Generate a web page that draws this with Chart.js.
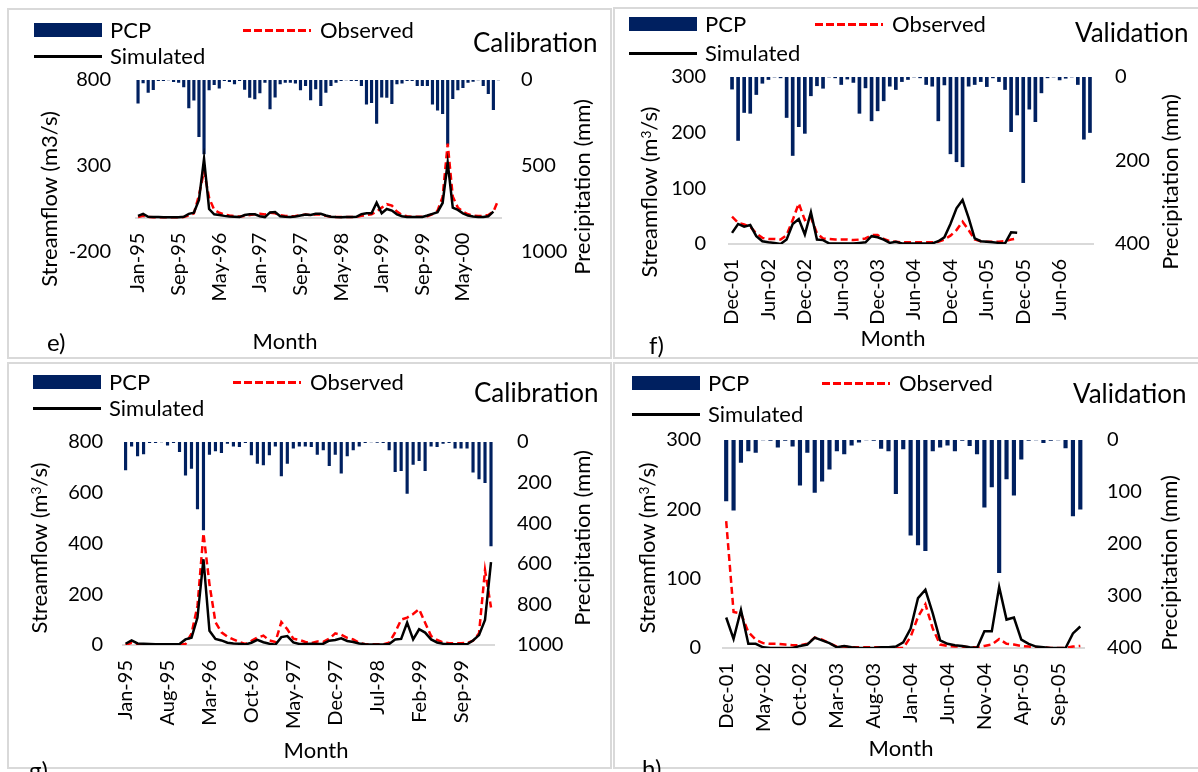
<!DOCTYPE html>
<html>
<head>
<meta charset="utf-8">
<title>Streamflow calibration and validation</title>
<script src="https://cdn.jsdelivr.net/npm/chart.js@4.4.1/dist/chart.umd.min.js"></script>
<style>
  html, body { margin: 0; padding: 0; }
  body { width: 1198px; height: 772px; position: relative; overflow: hidden; background: #fff; font-family: Lato, sans-serif; color: #000; }
  .frame { position: absolute; box-sizing: border-box; border: 2px solid #d9d9d9; }
  canvas { position: absolute; }
  .txt { position: absolute; white-space: nowrap; line-height: 1; }
  .sw { position: absolute; }
  sup { font-size: 0.62em; vertical-align: baseline; position: relative; top: -0.45em; }
</style>
</head>
<body>
<div class="frame" style="left:7px;top:8px;width:605px;height:351px"></div>
<div class="frame" style="left:613px;top:7px;width:600px;height:352px"></div>
<div class="frame" style="left:7px;top:362px;width:605px;height:407px"></div>
<div class="frame" style="left:613px;top:362px;width:600px;height:407px"></div>

<canvas id="chart-e" width="610" height="360" style="left:0;top:0"></canvas>
<canvas id="chart-f" width="586" height="360" style="left:612px;top:0"></canvas>
<canvas id="chart-g" width="612" height="410" style="left:0;top:362px"></canvas>
<canvas id="chart-h" width="586" height="410" style="left:612px;top:362px"></canvas>

<script>
// month labels for the category axes
const MONTHS = ['Jan','Feb','Mar','Apr','May','Jun','Jul','Aug','Sep','Oct','Nov','Dec'];
function monthLabels(month, year, count) {
  const out = [];
  for (let k = 0; k < count; k++) {
    const m = (month + k) % 12;
    const y = year + Math.floor((month + k) / 12);
    out.push(MONTHS[m] + '-' + String(y % 100).padStart(2, '0'));
  }
  return out;
}

// e) calibration, Jan-95 .. Dec-00
const labelsE = monthLabels(0, 1995, 72);
const ticksE = ['Jan-95','Sep-95','May-96','Jan-97','Sep-97','May-98','Jan-99','Sep-99','May-00'];
const pcpE = [134,17,72,56,4,4,0,10,14,40, 162,117,330,430,58,27,47,4,10,23, 4,55,101,110,75,14,168,100,23,14,
  14,19,58,33,116,52,149,72,33,14, 4,0,4,4,33,140,132,252,100,101, 138,23,19,4,4,33,33,33,140,176,
  196,375,108,58,44,14,8,0,33,80, 173,0];
const simE = [10,22,5,3,4,2,2,2,2,5, 22,28,103,342,50,19,15,10,7,5, 3,15,20,19,8,3,30,33,8,5,
  4,6,12,18,15,22,22,12,5,3, 2,3,3,5,20,25,25,87,25,50, 41,19,8,4,3,3,4,12,22,32,
  85,320,58,45,25,12,6,4,4,8, 35,null];
const obsE = [3,10,3,2,2,2,2,2,2,3, 12,25,130,270,115,45,28,18,12,8, 6,10,15,20,22,18,28,25,14,10,
  8,10,14,18,15,20,18,10,5,3, 3,3,3,4,10,15,19,35,58,78, 70,35,15,8,5,5,5,8,20,40,
  120,430,122,58,35,19,12,10,10,15, 35,105];

// f) validation, Dec-01 .. Nov-06
const labelsF = monthLabels(11, 2001, 60);
const ticksF = ['Dec-01','Jun-02','Dec-02','Jun-03','Dec-03','Jun-04','Dec-04','Jun-05','Dec-05','Jun-06'];
const pcpF = [29,152,85,87,42,15,6,0,2,97, 188,119,135,45,21,27,0,2,18,5, 13,87,26,105,81,57,22,30,11,6,
  0,2,18,22,105,19,184,203,215,22, 18,11,23,2,11,30,131,91,253,77, 107,38,2,0,7,3,0,18,149,133];
const simF = [20,36,31,34,14,5,3,2,0,8, 36,45,17,57,8,7,1,1,1,1, 1,2,3,14,12,8,2,4,1,1,
  1,1,1,1,5,12,36,64,79,47, 10,5,4,3,2,1,21,20];
const obsF = [49,38,35,31,19,11,9,9,8,16, 43,73,43,48,19,10,9,8,8,8, 7,8,10,16,16,9,5,4,3,3,
  3,3,3,3,4,8,15,25,40,25, 8,5,4,4,4,5,8,10];

// g) calibration, Jan-95 .. Feb-00
const labelsG = monthLabels(0, 1995, 62);
const ticksG = ['Jan-95','Aug-95','Mar-96','Oct-96','May-97','Dec-97','Jul-98','Feb-99','Sep-99'];
const pcpG = [138,20,69,59,3,3,0,15,3,48, 163,130,330,433,61,44,53,7,20,23, 3,64,105,113,64,20,167,105,31,20,
  20,23,61,39,117,61,154,69,39,20, 3,0,2,3,39,146,141,253,110,92, 141,20,23,7,3,31,31,31,149,182, 200,512];
const simG = [5,18,6,5,4,3,3,3,3,4, 22,29,108,338,56,24,18,9,6,5, 2,9,20,11,5,1,31,35,10,4,
  4,5,4,5,17,20,26,16,12,6, 3,2,2,2,4,22,24,88,22,62, 49,22,10,5,3,3,3,3,18,39, 99,327];
const obsG = [0,9,1,0,0,0,0,0,0,1, 4,45,154,440,240,90,50,33,22,12, 4,16,29,37,18,12,90,62,25,20,
  12,8,14,12,25,46,40,28,22,9, 3,3,3,3,9,50,100,108,122,141, 88,35,20,10,7,7,7,8,17,46, 295,148];

// h) validation, Dec-01 .. Dec-05
const labelsH = monthLabels(11, 2001, 49);
const ticksH = ['Dec-01','May-02','Oct-02','Mar-03','Aug-03','Jan-04','Jun-04','Nov-04','Apr-05','Sep-05'];
const pcpH = [117,135,43,21,24,0,1,14,1,12, 87,24,101,79,56,21,27,10,4,0, 1,16,21,103,17,183,202,213,21,14,
  10,21,1,11,27,129,90,255,75,106, 37,1,0,5,1,0,15,146,133];
const simH = [44,13,55,6,6,1,0,0,0,0, 3,5,15,11,7,1,3,1,0,0, 0,1,1,2,8,28,72,84,50,11,
  6,4,3,1,0,24,24,88,41,44, 12,6,2,1,0,0,0,21,31];
const obsH = [183,52,50,23,12,7,6,6,5,4, 4,6,15,12,7,2,2,1,1,1, 1,1,1,0,0,16,45,63,28,5,
  3,2,2,1,1,3,5,13,6,5, 3,2,1,1,0,0,0,2,3];

Chart.defaults.font.family = 'Lato';

const panels = [
  { id: 'chart-e', labels: labelsE, ticks: ticksE, pcp: pcpE, sim: simE, obs: obsE,
    yMin: -200, yMax: 800, yStep: 500, pMax: 1000, pStep: 500, barW: 2.5,
    xAtZero: true, top: 80, bottom: 108, xH: 0, leftW: 135.5, rightW: 109, leftPad: 24.5, rightPad: 20 },
  { id: 'chart-f', labels: labelsF, ticks: ticksF, pcp: pcpF, sim: simF, obs: obsF,
    yMin: 0, yMax: 300, yStep: 100, pMax: 400, pStep: 200, barW: 3,
    xAtZero: false, top: 77, bottom: 0, xH: 116, leftW: 117, rightW: 105, leftPad: 23, rightPad: 22 },
  { id: 'chart-g', labels: labelsG, ticks: ticksG, pcp: pcpG, sim: simG, obs: obsG,
    yMin: 0, yMax: 800, yStep: 200, pMax: 1000, pStep: 200, barW: 2.5,
    xAtZero: false, top: 80, bottom: 0, xH: 127, leftW: 122.6, rightW: 118, leftPad: 19.6, rightPad: 23 },
  { id: 'chart-h', labels: labelsH, ticks: ticksH, pcp: pcpH, sim: simH, obs: obsH,
    yMin: 0, yMax: 300, yStep: 100, pMax: 400, pStep: 100, barW: 3.5,
    xAtZero: false, top: 78, bottom: 0, xH: 124, leftW: 110.5, rightW: 114, leftPad: 21.5, rightPad: 23 }
];

function buildChart(p) {
  const tickFont = { size: 20 };
  const xScale = {
    position: p.xAtZero ? { y: 0 } : 'bottom',
    grid: { display: false, drawTicks: false },
    border: { display: true, color: '#d9d9d9', width: 2 },
    ticks: {
      autoSkip: false, maxRotation: 90, minRotation: 90, padding: 15,
      color: '#000', font: tickFont,
      callback: function (value) {
        const lab = this.getLabelForValue(value);
        return p.ticks.includes(lab) ? lab : '';
      }
    }
  };
  if (!p.xAtZero) xScale.afterFit = s => { s.height = p.xH; };

  new Chart(document.getElementById(p.id), {
    type: 'bar',
    data: {
      labels: p.labels,
      datasets: [
        { type: 'line', label: 'Simulated', data: p.sim, yAxisID: 'y', borderColor: '#000',
          borderWidth: 2.5, pointRadius: 0, tension: 0, order: 1 },
        { type: 'line', label: 'Observed', data: p.obs, yAxisID: 'y', borderColor: '#ff0000',
          borderDash: [7, 4], borderWidth: 2.5, pointRadius: 0, tension: 0, order: 2 },
        { label: 'PCP', data: p.pcp, yAxisID: 'y1', backgroundColor: '#002060',
          barThickness: p.barW, order: 3 }
      ]
    },
    options: {
      responsive: false,
      animation: false,
      layout: { padding: { top: p.top, bottom: p.bottom, left: 0, right: 0 } },
      plugins: { legend: { display: false }, tooltip: { enabled: false } },
      scales: {
        x: xScale,
        y: {
          position: 'left', min: p.yMin, max: p.yMax,
          grid: { display: false, drawTicks: false }, border: { display: false },
          ticks: { stepSize: p.yStep, padding: p.leftPad, color: '#000', font: tickFont, callback: v => String(v) },
          afterFit: s => { s.width = p.leftW; }
        },
        y1: {
          position: 'right', reverse: true, min: 0, max: p.pMax,
          grid: { display: false, drawTicks: false }, border: { display: false },
          ticks: { stepSize: p.pStep, padding: p.rightPad, color: '#000', font: tickFont, callback: v => String(v) },
          afterFit: s => { s.width = p.rightW; }
        }
      }
    }
  });
}

// text and legend overlays
function addText(html, x, y, size, mode) {
  const el = document.createElement('div');
  el.className = 'txt';
  el.innerHTML = html;
  el.style.fontSize = size + 'px';
  el.style.left = x + 'px';
  el.style.top = y + 'px';
  if (mode === 'rot') el.style.transform = 'translate(-50%,-50%) rotate(-90deg)';
  else if (mode === 'center') el.style.transform = 'translate(-50%,-50%)';
  else el.style.transform = 'translate(0,-50%)';
  document.body.appendChild(el);
}
function addSwatch(x, y, w, h, bg) {
  const el = document.createElement('div');
  el.className = 'sw';
  el.style.cssText = `left:${x}px;top:${y}px;width:${w}px;height:${h}px;background:${bg}`;
  document.body.appendChild(el);
}
const DASH = 'repeating-linear-gradient(90deg,#ff0000 0 8px,transparent 8px 11px)';

function addLegend(l) {
  addSwatch(l.x, l.y1 - 7, 68, 14, '#002060');
  addText('PCP', l.x + 76, l.y1, 22);
  addSwatch(l.ox, l.y1 - 1.5, 68, 3, DASH);
  addText('Observed', l.ox + 77, l.y1, 22);
  addSwatch(l.x, l.y2 - 1.5, 68, 3, '#000');
  addText('Simulated', l.x + 76, l.y2, 22);
}

panels.forEach(buildChart);

// e)
addLegend({ x: 34, ox: 243, y1: 30, y2: 56 });
addText('Calibration', 473, 42, 26);
addText('Streamflow (m3/s)', 49, 199, 22, 'rot');
addText('Precipitation (mm)', 582, 187, 22, 'rot');
addText('Month', 285, 341, 22, 'center');
addText('e)', 47, 342, 24);
// f)
addLegend({ x: 629, ox: 815, y1: 24, y2: 53 });
addText('Validation', 1075, 32, 26);
addText('Streamflow (m<sup>3</sup>/s)', 649, 192, 22, 'rot');
addText('Precipitation (mm)', 1170, 182, 22, 'rot');
addText('Month', 893, 338, 22, 'center');
addText('f)', 649, 345, 24);
// g)
addLegend({ x: 33, ox: 233, y1: 382, y2: 408 });
addText('Calibration', 474, 392, 26);
addText('Streamflow (m<sup>3</sup>/s)', 39, 548, 22, 'rot');
addText('Precipitation (mm)', 582, 538, 22, 'rot');
addText('Month', 316, 750, 22, 'center');
addText('g)', 29, 770, 24);
// h)
addLegend({ x: 632, ox: 822, y1: 383, y2: 414 });
addText('Validation', 1073, 393, 26);
addText('Streamflow (m<sup>3</sup>/s)', 647, 548, 22, 'rot');
addText('Precipitation (mm)', 1169, 563, 22, 'rot');
addText('Month', 901, 748, 22, 'center');
addText('h)', 642, 768, 24);
</script>
</body>
</html>
